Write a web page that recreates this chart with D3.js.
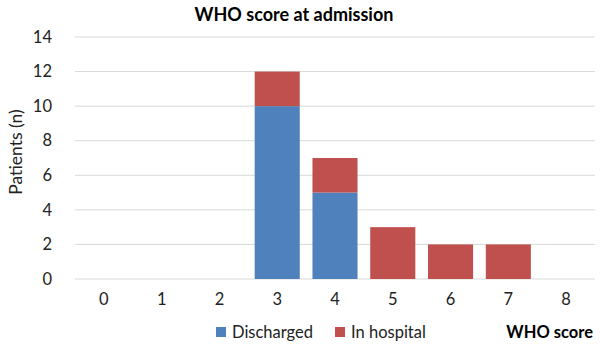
<!DOCTYPE html>
<html><head><meta charset="utf-8">
<script src="https://cdn.jsdelivr.net/npm/d3@7"></script>
<style>body{margin:0;background:#fff}svg{display:block;font-family:Lato,"Open Sans",sans-serif}</style>
</head><body><svg id="c" width="600" height="349"></svg>
<script>
const categories = ["0","1","2","3","4","5","6","7","8"];
const discharged = [0,0,0,10,5,0,0,0,0];
const inHospital = [0,0,0,2,2,3,2,2,0];
const yTicks = [0,2,4,6,8,10,12,14];
const seriesNames = ["Discharged","In hospital"];
const colors = ["#4F81BD","#C0504D"];

const svg = d3.select("#c");
const x = d3.scaleBand().domain(categories).range([75,595]).paddingInner(0.22).paddingOuter(0.11);
const y = d3.scaleLinear().domain([0,14]).range([279,37]);

svg.append("text").attr("x",294).attr("y",21).attr("text-anchor","middle")
  .attr("font-size",18).attr("font-weight","bold").attr("fill","#000").text("WHO score at admission");

svg.append("g").selectAll("line").data(yTicks).join("line")
  .attr("x1",75).attr("x2",595).attr("y1",d=>y(d)).attr("y2",d=>y(d))
  .attr("stroke","#d9d9d9").attr("stroke-width",1);

const yAxis = svg.append("g").attr("transform","translate(75,0)")
  .call(d3.axisLeft(y).tickValues(yTicks).tickSize(0).tickPadding(23));
yAxis.select(".domain").remove();
yAxis.selectAll("text").attr("font-size",16.5).attr("fill","#222").attr("font-family","Lato,'Open Sans',sans-serif");

const xAxis = svg.append("g").attr("transform","translate(0,279)")
  .call(d3.axisBottom(x).tickSize(0).tickPadding(14));
xAxis.select(".domain").remove();
xAxis.selectAll("text").attr("font-size",16.5).attr("fill","#222").attr("font-family","Lato,'Open Sans',sans-serif");

const stackData = categories.map((c,i)=>({cat:c, Discharged:discharged[i], "In hospital":inHospital[i]}));
const stacked = d3.stack().keys(seriesNames)(stackData);
svg.append("g").selectAll("g").data(stacked).join("g").attr("fill",(d,i)=>colors[i])
  .selectAll("rect").data(d=>d.filter(p=>p[1]-p[0]>0)).join("rect")
  .attr("x",d=>x(d.data.cat)).attr("width",x.bandwidth())
  .attr("y",d=>y(d[1])).attr("height",d=>y(d[0])-y(d[1]));

svg.append("text").attr("transform","translate(22,152) rotate(-90)").attr("text-anchor","middle")
  .attr("font-size",17.5).attr("fill","#222").text("Patients (n)");

const lg = svg.append("g");
const lx = [216,335];
seriesNames.forEach((n,i)=>{
  lg.append("rect").attr("x",lx[i]).attr("y",327).attr("width",10).attr("height",10).attr("fill",colors[i]);
  lg.append("text").attr("x",lx[i]+16).attr("y",338).attr("font-size",16.5).attr("fill","#222").text(n);
});
svg.append("text").attr("x",593).attr("y",338).attr("text-anchor","end").attr("font-size",16.5)
  .attr("font-weight","bold").attr("fill","#000").text("WHO score");
</script></body></html>
